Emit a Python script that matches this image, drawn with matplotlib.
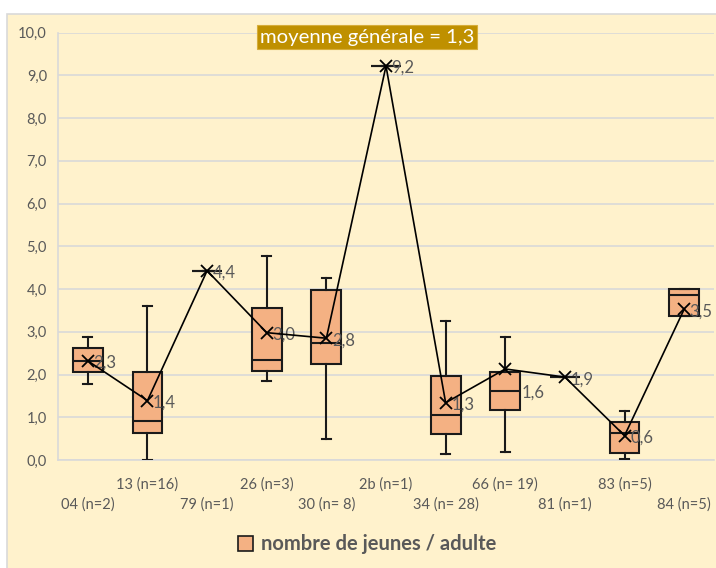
import matplotlib
matplotlib.use("Agg")
import matplotlib.pyplot as plt
from matplotlib.patches import Rectangle

plt.rcParams['font.family'] = ['Lato', 'DejaVu Sans']

# ---- data ----
categories = ["04 (n=2)", "13 (n=16)", "79 (n=1)", "26 (n=3)", "30 (n= 8)", "2b (n=1)",
              "34 (n= 28)", "66 (n= 19)", "81 (n=1)", "83 (n=5)", "84 (n=5)"]
whis_low = [1.77, 0.00, 4.43, 1.85, 0.49, 9.22, 0.14, 0.19, 1.94, 0.02, 3.38]
q1       = [2.06, 0.64, 4.43, 2.09, 2.24, 9.22, 0.61, 1.17, 1.94, 0.16, 3.38]
median   = [2.32, 0.92, 4.43, 2.34, 2.73, 9.22, 1.06, 1.62, 1.94, 0.63, 3.85]
q3       = [2.61, 2.05, 4.43, 3.56, 3.99, 9.22, 1.97, 2.07, 1.94, 0.88, 4.00]
whis_high= [2.89, 3.61, 4.43, 4.78, 4.26, 9.22, 3.25, 2.88, 1.94, 1.15, 4.00]
means    = [2.32, 1.39, 4.43, 2.98, 2.85, 9.22, 1.34, 2.13, 1.94, 0.57, 3.53]
label_text = ["2,3", "1,4", "4,4", "3,0", "2,8", "9,2", "1,3", "1,6", "1,9", "0,6", "3,5"]
label_y    = [2.32, 1.39, 4.43, 2.98, 2.85, 9.22, 1.34, 1.62, 1.94, 0.57, 3.53]
yticks = [0, 1, 2, 3, 4, 5, 6, 7, 8, 9, 10]
ytick_labels = ["0,0", "1,0", "2,0", "3,0", "4,0", "5,0", "6,0", "7,0", "8,0", "9,0", "10,0"]
title_text = "moyenne générale = 1,3"
legend_text = "nombre de jeunes / adulte"

W, H = 716, 568
fig = plt.figure(figsize=(W / 100, H / 100), dpi=100)
fig.patch.set_facecolor("white")

cream = "#FFF2CC"
gray_txt = "#595959"
grid_c = "#D9D9D9"
box_fill = "#F4B183"

# chart area background
bg = Rectangle((7.5 / W, -0.05), 1.1, (H - 13.5) / H + 0.05, transform=fig.transFigure,
               facecolor=cream, edgecolor=grid_c, linewidth=1.2, zorder=-10)
fig.add_artist(bg)

left, right = 58 / W, 714 / W
bottom, top = 1 - 460 / H, 1 - 32.7 / H
ax = fig.add_axes([left, bottom, right - left, top - bottom])
ax.patch.set_alpha(0)

n = len(categories)
pos = list(range(n))
stats = []
for i in range(n):
    stats.append(dict(med=median[i], q1=q1[i], q3=q3[i], whislo=whis_low[i],
                      whishi=whis_high[i], fliers=[], label=categories[i]))

ax.bxp(stats, positions=pos, widths=0.5, capwidths=0.15, showfliers=False,
       patch_artist=True,
       boxprops=dict(facecolor=box_fill, edgecolor="#1a1a1a", linewidth=1.5),
       medianprops=dict(color="#1a1a1a", linewidth=1.5),
       whiskerprops=dict(color="#1a1a1a", linewidth=1.5),
       capprops=dict(color="#1a1a1a", linewidth=1.5),
       zorder=3)

# data labels (label of 66 sits right of its box)
for i in range(n):
    dx = 12 if categories[i].startswith("66") else 4
    ax.annotate(label_text[i], xy=(pos[i], label_y[i]), xytext=(dx, -1.5),
                textcoords="offset points", ha="left", va="center",
                fontsize=12, color=gray_txt, zorder=4)

# mean line with markers
ax.plot(pos, means, color="black", linewidth=1.2, marker="x", markersize=9,
        markeredgewidth=1.3, zorder=5)

ax.set_xlim(-0.5, n - 0.5)
ax.set_ylim(0, 10)
ax.set_yticks(yticks)
ax.set_yticklabels(ytick_labels)
ax.tick_params(axis="y", length=0, pad=8, labelsize=10.5, labelcolor=gray_txt)
ax.yaxis.grid(True, color=grid_c, linewidth=1.2)
ax.set_axisbelow(True)
for s in ["top", "right"]:
    ax.spines[s].set_visible(False)
for s in ["left", "bottom"]:
    ax.spines[s].set_color(grid_c)
    ax.spines[s].set_linewidth(1.2)

# staggered category labels: odd positions upper row (major), even lower row (minor)
ax.set_xticks([p for p in pos if p % 2 == 1])
ax.set_xticklabels([categories[p] for p in pos if p % 2 == 1])
ax.set_xticks([p for p in pos if p % 2 == 0], minor=True)
ax.set_xticklabels([categories[p] for p in pos if p % 2 == 0], minor=True)
ax.tick_params(axis="x", which="major", length=0, pad=12.5, labelsize=10.5, labelcolor=gray_txt)
ax.tick_params(axis="x", which="minor", length=0, pad=27, labelsize=10.5, labelcolor=gray_txt)

# title box
fig.text(367 / W, 1 - 37 / H, title_text, ha="center", va="center", fontsize=14.6,
         color="white",
         bbox=dict(boxstyle="square,pad=0.15", facecolor="#BF9000", edgecolor="#D6AD3A",
                   linewidth=0.8))

# legend
lx, ly = 238 / W, 1 - 551 / H
fig.add_artist(Rectangle((lx, ly), 15 / W, 15 / H, transform=fig.transFigure,
                         facecolor=box_fill, edgecolor="#1a1a1a", linewidth=1.2))
fig.text(261 / W, 1 - 543.5 / H, legend_text, ha="left", va="center", fontsize=14.5,
         fontweight="bold", color=gray_txt)

fig.savefig("out.png", dpi=100, facecolor=fig.get_facecolor())
